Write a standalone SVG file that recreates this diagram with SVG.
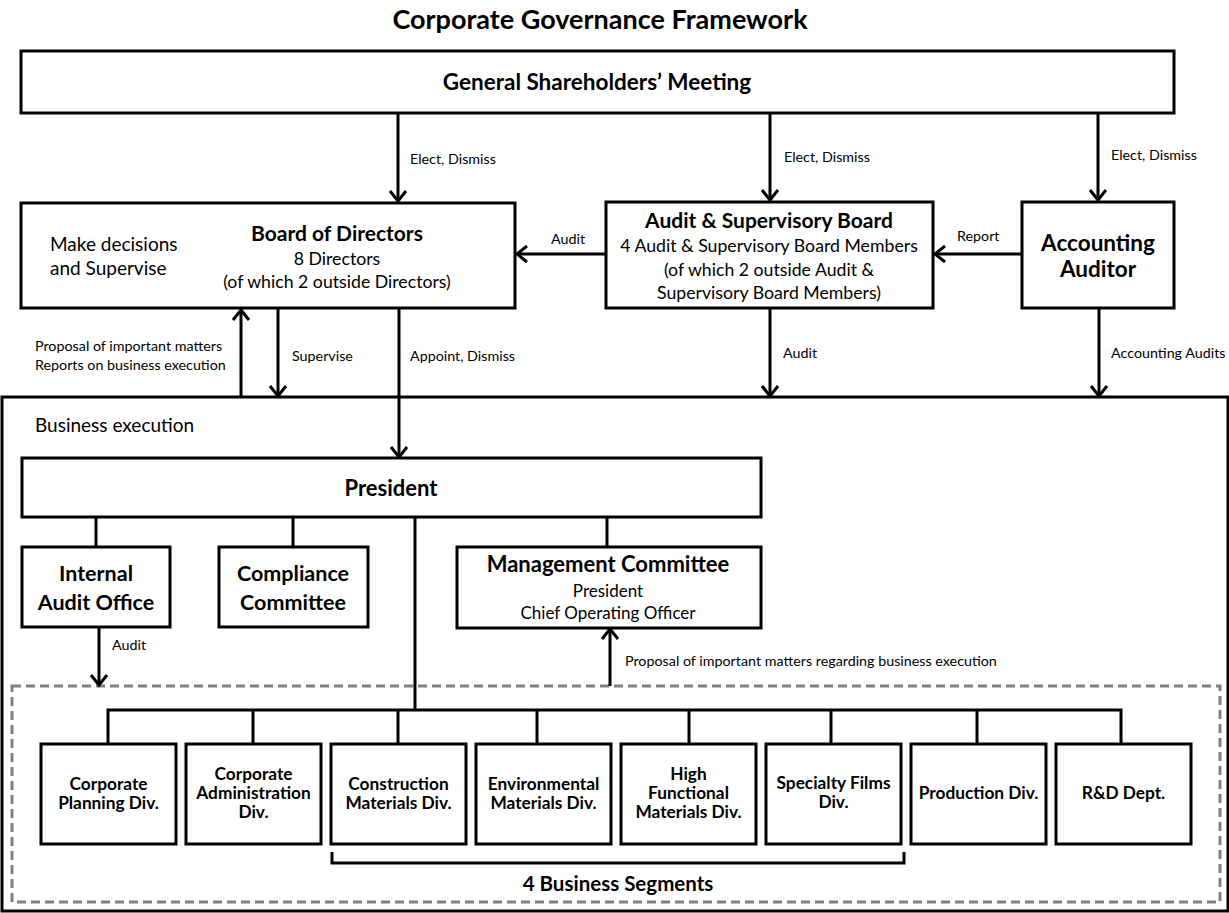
<svg xmlns="http://www.w3.org/2000/svg" width="1229" height="913" viewBox="0 0 1229 913">
<defs>
<marker id="ah" markerUnits="userSpaceOnUse" markerWidth="24" markerHeight="24" viewBox="0 0 24 24" refX="14" refY="12" orient="auto">
<path d="M4,4 L14,12 L4,20" fill="none" stroke="#000" stroke-width="3"/>
</marker>
<style>
text{font-family:Lato,"Liberation Sans",sans-serif;fill:#000}
.b{font-weight:bold}
.box{fill:#fff;stroke:#000;stroke-width:3}
.ln{fill:none;stroke:#000;stroke-width:3}
.ar{fill:none;stroke:#000;stroke-width:3;marker-end:url(#ah)}
.lbl{font-size:14.3px}
.m{text-anchor:middle}
.t1{font-size:21px;font-weight:bold}
.t2{font-size:17.7px}
.div{font-size:17.3px;font-weight:bold;text-anchor:middle}
</style>
</defs>
<rect width="1229" height="913" fill="#fff"/>
<text x="600" y="29" class="b m" font-size="27">Corporate Governance Framework</text>

<g id="business-execution">
<rect class="box" x="2" y="397" width="1226" height="514"/>
<text x="35" y="432" font-size="19">Business execution</text>
</g>
<g id="segments-area">
<rect x="12" y="686" width="1208" height="216" fill="none" stroke="#808080" stroke-width="3" stroke-dasharray="9 5"/>
</g>

<g id="connectors">
<line class="ar" x1="398" y1="113" x2="398" y2="201"/>
<line class="ar" x1="770" y1="113" x2="770" y2="200"/>
<line class="ar" x1="1098" y1="113" x2="1098" y2="200"/>
<line class="ar" x1="605" y1="254" x2="517" y2="254"/>
<line class="ar" x1="1022" y1="254" x2="935" y2="254"/>
<line class="ar" x1="241" y1="397" x2="241" y2="310"/>
<line class="ar" x1="278" y1="308" x2="278" y2="396"/>
<line class="ar" x1="399" y1="308" x2="399" y2="457"/>
<line class="ar" x1="770" y1="308" x2="770" y2="396"/>
<line class="ar" x1="1099" y1="308" x2="1099" y2="396"/>
<line class="ar" x1="99" y1="627" x2="99" y2="685"/>
<line class="ar" x1="610" y1="686" x2="610" y2="629"/>
<line class="ln" x1="96" y1="517" x2="96" y2="547"/>
<line class="ln" x1="293" y1="517" x2="293" y2="547"/>
<line class="ln" x1="607" y1="517" x2="607" y2="547"/>
<line class="ln" x1="415" y1="517" x2="415" y2="710"/>
<path class="ln" d="M108,744 V710 H1121 V744"/>
<line class="ln" x1="253" y1="710" x2="253" y2="744"/>
<line class="ln" x1="398" y1="710" x2="398" y2="744"/>
<line class="ln" x1="537" y1="710" x2="537" y2="744"/>
<line class="ln" x1="689" y1="710" x2="689" y2="744"/>
<line class="ln" x1="831" y1="710" x2="831" y2="744"/>
<line class="ln" x1="977" y1="710" x2="977" y2="744"/>
<path class="ln" d="M332,852 V863 H904 V852"/>
<text class="lbl" x="410" y="164">Elect, Dismiss</text>
<text class="lbl" x="784" y="162">Elect, Dismiss</text>
<text class="lbl" x="1111" y="160">Elect, Dismiss</text>
<text class="lbl" x="551" y="244">Audit</text>
<text class="lbl" x="957" y="241">Report</text>
<text class="lbl" x="35" y="351">Proposal of important matters</text>
<text class="lbl" x="35" y="370">Reports on business execution</text>
<text class="lbl" x="292" y="361">Supervise</text>
<text class="lbl" x="410" y="361">Appoint, Dismiss</text>
<text class="lbl" x="783" y="358">Audit</text>
<text class="lbl" x="1111" y="358">Accounting Audits</text>
<text class="lbl" x="112" y="650">Audit</text>
<text class="lbl" x="625" y="666">Proposal of important matters regarding business execution</text>
<text x="618" y="891" class="b m" font-size="20.5">4 Business Segments</text>
</g>

<g id="gsm">
<rect class="box" x="21" y="51" width="1153" height="62"/>
<text x="597" y="90" class="b m" font-size="22.5">General Shareholders’ Meeting</text>
</g>
<g id="board">
<rect class="box" x="21" y="203" width="494" height="105"/>
<text x="50" y="251" font-size="19">Make decisions</text>
<text x="50" y="275" font-size="19">and Supervise</text>
<text x="337" y="241" class="t1 m">Board of Directors</text>
<text x="337" y="265" class="t2 m">8 Directors</text>
<text x="337" y="288" class="t2 m">(of which 2 outside Directors)</text>
</g>
<g id="asb">
<rect class="box" x="606" y="202" width="327" height="106"/>
<text x="769" y="228" class="t1 m">Audit &amp; Supervisory Board</text>
<text x="769" y="252" class="t2 m">4 Audit &amp; Supervisory Board Members</text>
<text x="769" y="276" class="t2 m">(of which 2 outside Audit &amp;</text>
<text x="769" y="299" class="t2 m">Supervisory Board Members)</text>
</g>
<g id="auditor">
<rect class="box" x="1022" y="202" width="152" height="106"/>
<text x="1098" y="251" class="b m" font-size="22.5">Accounting</text>
<text x="1098" y="277" class="b m" font-size="22.5">Auditor</text>
</g>
<g id="president">
<rect class="box" x="22" y="458" width="739" height="59"/>
<text x="391" y="496" class="b m" font-size="22">President</text>
</g>
<g id="internal-audit">
<rect class="box" x="22" y="547" width="148" height="80"/>
<text x="96" y="581" class="b m" font-size="21.5">Internal</text>
<text x="96" y="610" class="b m" font-size="21.5">Audit Office</text>
</g>
<g id="compliance">
<rect class="box" x="219" y="547" width="149" height="80"/>
<text x="293" y="581" class="b m" font-size="21.5">Compliance</text>
<text x="293" y="610" class="b m" font-size="21.5">Committee</text>
</g>
<g id="management">
<rect class="box" x="457" y="547" width="304" height="81"/>
<text x="608" y="572" class="b m" font-size="22">Management Committee</text>
<text x="608" y="597" class="m" font-size="17">President</text>
<text x="608" y="619" class="m" font-size="17">Chief Operating Officer</text>
</g>
<g id="div-planning">
<rect class="box" x="41" y="744" width="135" height="100"/>
<text x="108.5" y="790" class="div">Corporate</text>
<text x="108.5" y="809" class="div">Planning Div.</text>
</g>
<g id="div-admin">
<rect class="box" x="186" y="744" width="135" height="100"/>
<text x="253.5" y="780" class="div">Corporate</text>
<text x="253.5" y="799" class="div">Administration</text>
<text x="253.5" y="818" class="div">Div.</text>
</g>
<g id="div-construction">
<rect class="box" x="331" y="744" width="135" height="100"/>
<text x="398.5" y="790" class="div">Construction</text>
<text x="398.5" y="809" class="div">Materials Div.</text>
</g>
<g id="div-environmental">
<rect class="box" x="476" y="744" width="135" height="100"/>
<text x="543.5" y="790" class="div">Environmental</text>
<text x="543.5" y="809" class="div">Materials Div.</text>
</g>
<g id="div-high-functional">
<rect class="box" x="621" y="744" width="135" height="100"/>
<text x="688.5" y="780" class="div">High</text>
<text x="688.5" y="799" class="div">Functional</text>
<text x="688.5" y="818" class="div">Materials Div.</text>
</g>
<g id="div-films">
<rect class="box" x="766" y="744" width="135" height="100"/>
<text x="833.5" y="789" class="div">Specialty Films</text>
<text x="833.5" y="808" class="div">Div.</text>
</g>
<g id="div-production">
<rect class="box" x="911" y="744" width="135" height="100"/>
<text x="978.5" y="799" class="div">Production Div.</text>
</g>
<g id="dept-rd">
<rect class="box" x="1056" y="744" width="135" height="100"/>
<text x="1123.5" y="799" class="div">R&amp;D Dept.</text>
</g>
</svg>
